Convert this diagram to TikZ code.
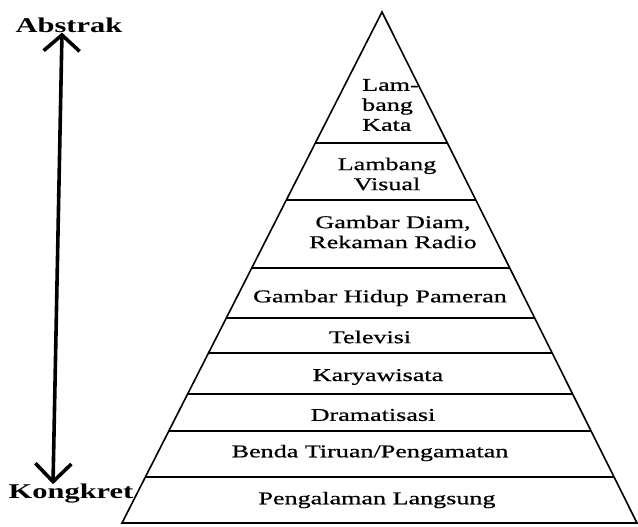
\documentclass[tikz,border=0pt]{standalone}
\usepackage{fontspec}
\setmainfont[FakeStretch=1.45]{Liberation Serif}
\newfontfamily\levelfont[FakeStretch=1.45,FakeBold=0.7]{Liberation Serif}
\usetikzlibrary{calc,arrows.meta}

\tikzset{
  level/.style={font=\levelfont\fontsize{18}{20}\selectfont,align=center,inner sep=0pt},
  pole/.style={font=\fontsize{21}{23}\selectfont\bfseries,inner sep=0pt},
}

\begin{document}
\begin{tikzpicture}[x=1pt,y=-1pt]
  \useasboundingbox (0,0) rectangle (638,527);
  \coordinate (top) at (382,12);
  \coordinate (bl) at (122,523);
  \coordinate (br) at (637,523);
  \draw[line width=1.6pt] (bl) -- (top) -- (br) -- cycle;
  \foreach \y in {143,200,268,318,353,394,431,477}
    \draw[line width=1.6pt] ($(top)!{(\y-12)/511}!(bl)$) -- ($(top)!{(\y-12)/511}!(br)$);
  \node[level,anchor=west,align=left] (kata) at (362,105) {Lam-\\bang\\Kata};
  \node[level] (visual) at (387,174) {Lambang\\Visual};
  \node[level] (diam) at (393,232) {Gambar Diam,\\Rekaman Radio};
  \node[level] (hidup) at (380,298) {Gambar Hidup Pameran};
  \node[level] (tv) at (370,337) {Televisi};
  \node[level] (karya) at (378,377) {Karyawisata};
  \node[level] (drama) at (373,415) {Dramatisasi};
  \node[level] (benda) at (370,453) {Benda Tiruan/Pengamatan};
  \node[level] (langsung) at (377,500) {Pengalaman Langsung};
  \node[pole] (abstrak) at (69,25) {Abstrak};
  \node[pole] (kongkret) at (71,494) {Kongkret};
  \draw[line width=3.6pt,{Straight Barb[length=18pt,width=36pt]}-{Straight Barb[length=16pt,width=36pt]}]
    ([xshift=-18pt]kongkret.north) -- ([xshift=-7pt]abstrak.south);
\end{tikzpicture}
\end{document}
